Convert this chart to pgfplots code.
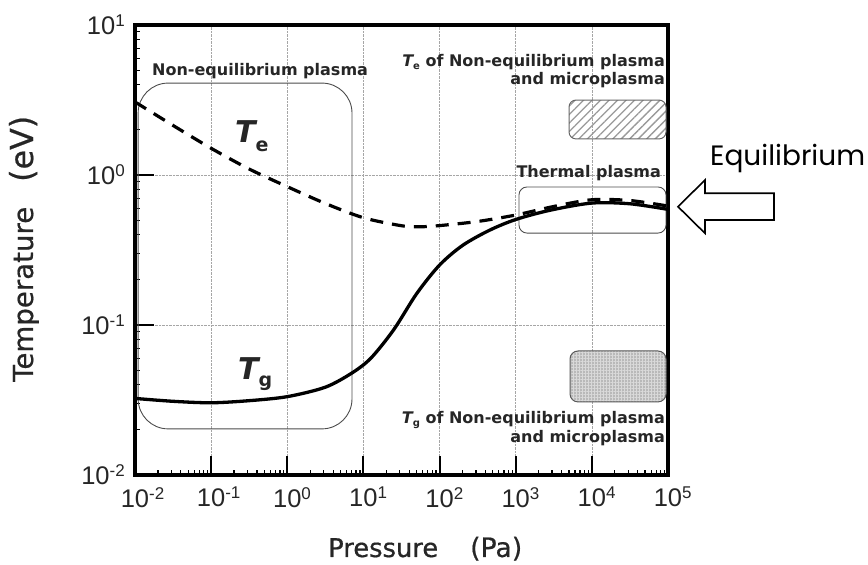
\documentclass[border=0pt]{standalone}
\usepackage{fontspec}
\setmainfont{DejaVu Sans}
\newfontfamily\tickfont{Liberation Sans}
\newfontfamily\labfont[FakeBold=0.6]{DejaVu Sans}
\newfontfamily\eqfont{Poppins}
\usepackage{pgfplots}
\pgfplotsset{compat=1.18}
\usetikzlibrary{patterns.meta}
\newcommand\xtl[1]{10\rlap{\raisebox{8pt}{\fontsize{17}{17}\selectfont #1}}}
\newcommand\ytl[1]{10\raisebox{8pt}{\fontsize{17}{17}\selectfont #1}}
\newcommand\ann{\fontsize{16}{19}\selectfont\bfseries}
\begin{document}
\begin{tikzpicture}
\useasboundingbox (0,0) rectangle (868pt,565pt);
\begin{axis}[at={(135pt,90pt)}, anchor=south west, scale only axis,
 width=533pt, height=450pt,
 xmode=log, ymode=log, xmin=1e-2, xmax=1e5, ymin=1e-2, ymax=10,
 xtick={1e-2,1e-1,1,10,100,1000,10000,100000},
 xticklabels={\xtl{-2},\xtl{-1},\xtl{0},\xtl{1},\xtl{2},\xtl{3},\xtl{4},\xtl{5}},
 ytick={1e-2,1e-1,1,10},
 yticklabels={\ytl{-2},\ytl{-1},\ytl{0},\ytl{1}},
 tick pos=left, tick align=inside,
 major tick length=19pt, minor tick length=5pt,
 every major tick/.append style={line width=2pt, black},
 every minor tick/.append style={line width=1.2pt, black},
 axis line style={line width=3.3pt},
 grid=major, major grid style={densely dotted, gray!70, line width=0.6pt},
 xticklabel style={font=\fontsize{25.5}{25.5}\selectfont\tickfont, text=black!85, anchor=north, inner sep=0pt, yshift=-12pt},
 yticklabel style={font=\fontsize{25.5}{25.5}\selectfont\tickfont, text=black!85, anchor=east, inner sep=0pt, xshift=-10pt},
]
\draw[black!70, line width=0.9pt, rounded corners=30pt] (axis cs:0.011,4.1) rectangle (axis cs:7.08,0.0203);
\draw[black!70, line width=0.9pt, rounded corners=8pt] (axis cs:1104,0.832) rectangle (axis cs:94200,0.41);
\draw[black!60, line width=1pt, rounded corners=7pt, pattern={Lines[angle=45,distance=6pt,line width=1.3pt]}, pattern color=gray!80] (axis cs:5012,3.16) rectangle (axis cs:94200,1.74);
\draw[black!65, line width=1pt, rounded corners=8pt, preaction={fill=gray!55}, pattern={Hatch[distance=3pt,line width=0.5pt]}, pattern color=gray!30] (axis cs:5164,0.0671) rectangle (axis cs:94200,0.0307);
% T_e
\addplot[black, line width=3.2pt, dash pattern=on 13pt off 9pt, smooth] coordinates {
(0.01,3.07) (0.0316,2.14) (0.1,1.507) (0.316,1.096) (1,0.836) (3.16,0.646)
(10,0.519) (31.6,0.459) (56.2,0.452) (100,0.460) (316,0.490) (1000,0.541)
(3162,0.617) (10000,0.684) (31623,0.676) (100000,0.621)};
% T_g
\addplot[black, line width=3.3pt, smooth] coordinates {
(0.01,0.0324) (0.0316,0.0310) (0.1,0.0303) (0.316,0.0313) (1,0.0333) (3.16,0.0385)
(7.08,0.0479) (12.6,0.0603) (25.1,0.0933) (50.1,0.162) (100,0.251) (200,0.339)
(447,0.427) (1000,0.505) (2818,0.582) (10000,0.650) (31623,0.643) (100000,0.590)};
\end{axis}
\begin{scope}[every node/.style={inner sep=0pt, text=black!85}]
\node[anchor=base west] at (152pt,489pt) {\ann Non-equilibrium plasma};
\node[anchor=base west] at (235pt,422pt) {\fontsize{30}{30}\selectfont\bfseries\itshape T\upshape\fontsize{19}{19}\selectfont\raisebox{-9pt}{e}};
\node[anchor=base west] at (238pt,185pt) {\fontsize{30}{30}\selectfont\bfseries\itshape T\upshape\fontsize{19}{19}\selectfont\raisebox{-7pt}{g}};
\node[anchor=base east] at (665pt,498pt) {\ann{\itshape T}\raisebox{-3pt}{\fontsize{10}{10}\selectfont e} of Non-equilibrium plasma};
\node[anchor=base east] at (665pt,480pt) {\ann and microplasma};
\node[anchor=base east] at (661pt,387pt) {\ann Thermal plasma};
\node[anchor=base east] at (665pt,141pt) {\ann{\itshape T}\raisebox{-3pt}{\fontsize{10}{10}\selectfont g} of Non-equilibrium plasma};
\node[anchor=base east] at (665pt,122pt) {\ann and microplasma};
\end{scope}
\node[anchor=base west, inner sep=0pt] at (710pt,399pt) {\eqfont\fontsize{28}{28}\selectfont Equilibrium};
\draw[line width=1.6pt, fill=white] (678pt,358.3pt) -- (705pt,385pt) -- (705pt,371.7pt) -- (774pt,371.7pt) -- (774pt,345pt) -- (705pt,345pt) -- (705pt,331.7pt) -- cycle;
\begin{scope}[every node/.style={inner sep=0pt, text=black!85}]
\node[anchor=base west] at (328pt,8pt) {\resizebox{110pt}{!}{\labfont\fontsize{24}{24}\selectfont Pressure}};
\node[anchor=base west] at (470pt,8pt) {\resizebox{52pt}{!}{\labfont\fontsize{24}{24}\selectfont (Pa)}};
\node[anchor=base west, rotate=90] at (33pt,183pt) {\resizebox{175pt}{!}{\labfont\fontsize{24}{24}\selectfont Temperature}};
\node[anchor=base west, rotate=90] at (33pt,383pt) {\resizebox{66pt}{!}{\labfont\fontsize{24}{24}\selectfont (eV)}};
\end{scope}
\end{tikzpicture}
\end{document}
